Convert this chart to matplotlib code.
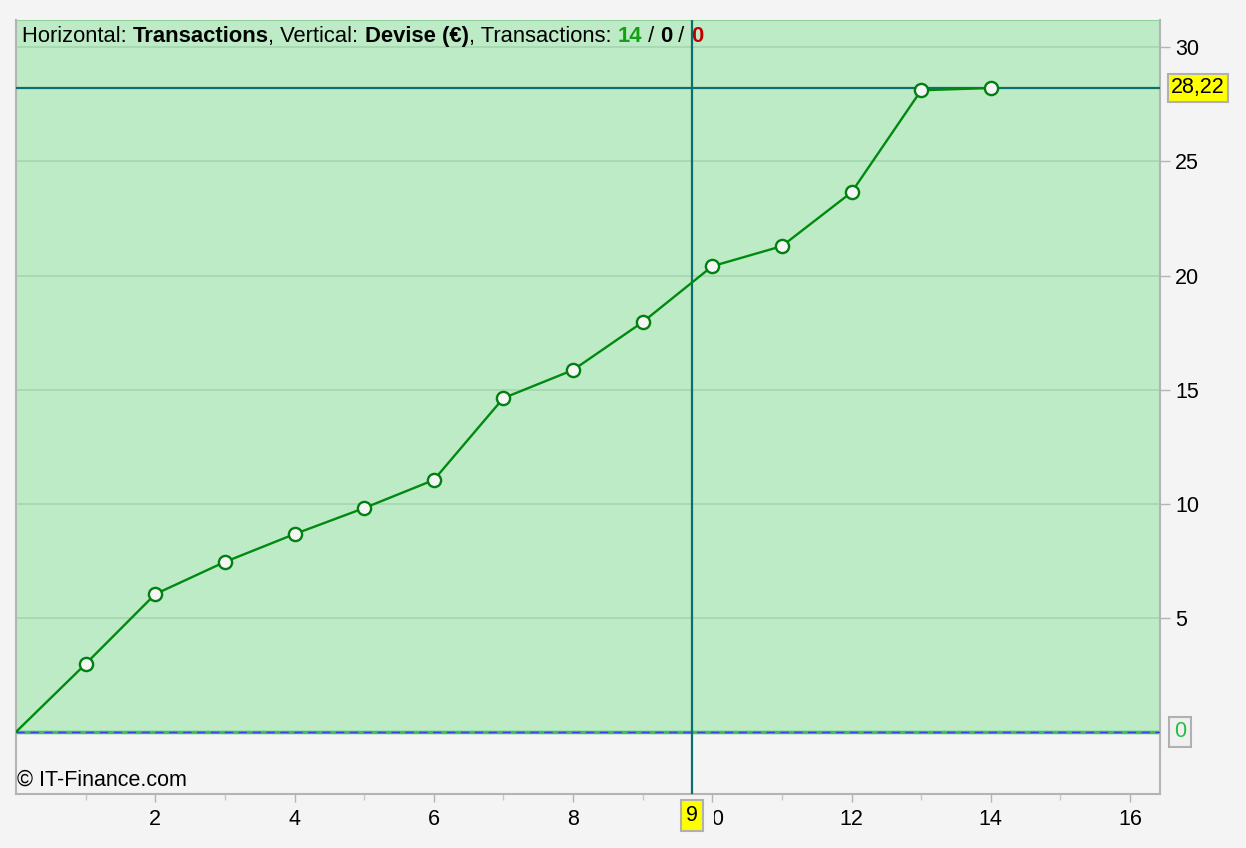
import matplotlib
matplotlib.use('Agg')
import matplotlib.pyplot as plt
from matplotlib.transforms import Bbox

# Données
transactions = [0, 1, 2, 3, 4, 5, 6, 7, 8, 9, 10, 11, 12, 13, 14]
devise = [0, 2.98, 6.04, 7.45, 8.67, 9.81, 11.04, 14.63, 15.86, 17.96,
          20.41, 21.29, 23.65, 28.12, 28.22]
x_ticks = [2, 4, 6, 8, 10, 12, 14, 16]
y_ticks = [5, 10, 15, 20, 25, 30]
curseur_x = 9.71
curseur_y = 28.22
nb_gagnantes, nb_nulles, nb_perdantes = 14, 0, 0

plt.rcParams['font.family'] = ['Liberation Sans', 'DejaVu Sans']
taille = 15.5

fig = plt.figure(figsize=(12.46, 8.48), dpi=100)
fig.patch.set_facecolor('#f4f4f4')
ax = fig.add_axes([16 / 1246, 54 / 848, 1144 / 1246, 774 / 848])
ax.set_facecolor('#f4f4f4')

ax.set_xlim(0, 16.43)
ax.set_ylim(-2.72, 31.2)

# zone verte au-dessus de zéro
ax.axhspan(0, 31.2, facecolor='#bdebc6', edgecolor='#8fd09d', linewidth=1.5, zorder=0)
for y in y_ticks:
    ax.axhline(y, color='#a6d6b0', linewidth=1.2, zorder=1)

# ligne zéro
ax.axhline(0, color='#3cc060', linewidth=2.5, zorder=2)
ax.axhline(0, color='#4040e0', linewidth=1, linestyle=(0, (6, 4)), zorder=3)

# courbe (pas de marqueur sur le point de départ)
ax.plot(transactions, devise, color='#008a10', linewidth=1.7, marker='o',
        markersize=9.5, markerfacecolor='#f6f6f6', markeredgecolor='#008010',
        markeredgewidth=1.7, markevery=list(range(1, len(transactions))), zorder=5)

# réticule
ax.axvline(curseur_x, color='#0d6e6e', linewidth=1.6, zorder=4)
ax.axhline(curseur_y, color='#0d6e6e', linewidth=1.6, zorder=4)

for s in ax.spines.values():
    s.set_color('#b4b4b4')
    s.set_linewidth(1.5)
ax.spines['top'].set_visible(False)

ax.set_xticks(x_ticks)
ax.set_xticks(range(1, 17, 2), minor=True)
ax.tick_params(axis='x', which='major', length=6, width=1, color='#b4b4b4',
               labelsize=taille, pad=5)
ax.tick_params(axis='x', which='minor', length=4, width=1, color='#c8c8c8')
ax.yaxis.tick_right()
ax.set_yticks(y_ticks)
ax.tick_params(axis='y', length=7, width=1, color='#b4b4b4', labelsize=taille, pad=4)

# titre
t = ax.text(0.005, 0.992, 'Horizontal: ', transform=ax.transAxes, fontsize=15.8,
            ha='left', va='top', zorder=10)
morceaux = [('Transactions', 'bold', 'black'), (', Vertical: ', 'normal', 'black'),
            ('Devise (€)', 'bold', 'black'), (', Transactions: ', 'normal', 'black'),
            (str(nb_gagnantes), 'bold', '#14a014'), (' / ', 'normal', 'black'),
            (str(nb_nulles), 'bold', 'black'), (' / ', 'normal', 'black'),
            (str(nb_perdantes), 'bold', '#c00000')]
for txt, poids, coul in morceaux:
    t = ax.annotate(txt, xy=(1, 0), xycoords=t, ha='left', va='bottom',
                    fontsize=15.8, fontweight=poids, color=coul, zorder=10)

ax.text(0.001, 0.004, '© IT-Finance.com', transform=ax.transAxes, fontsize=taille,
        ha='left', va='bottom', zorder=10)

# étiquettes du réticule
ax.annotate(f'{curseur_y:.2f}'.replace('.', ','), xy=(1, curseur_y),
            xycoords=('axes fraction', 'data'), xytext=(8, 0), textcoords='offset points',
            ha='left', va='center', fontsize=taille,
            bbox=dict(boxstyle='square,pad=0.15', facecolor='#ffff00', edgecolor='#b0b0b0',
                      linewidth=1.5),
            zorder=10, annotation_clip=False)
ax.annotate('0', xy=(1, 0), xycoords=('axes fraction', 'data'), xytext=(10, 0),
            textcoords='offset points', ha='left', va='center', fontsize=taille,
            color='#20c040',
            bbox=dict(boxstyle='square,pad=0.22', facecolor='#f0f0f0', edgecolor='#b0b0b0',
                      linewidth=1.5),
            zorder=10, annotation_clip=False)
ax.annotate(str(int(curseur_x)), xy=(curseur_x, 0), xycoords=('data', 'axes fraction'),
            xytext=(0, -8), textcoords='offset points', ha='center', va='top',
            fontsize=taille,
            bbox=dict(boxstyle='square,pad=0.22', facecolor='#ffff00', edgecolor='#b0b0b0',
                      linewidth=1.5),
            zorder=10, annotation_clip=False)

# la partie de l'étiquette "10" cachée par l'étiquette du curseur
x_coupe = ax.transData.transform((curseur_x + 0.31, 0))[0]
for lab in ax.get_xticklabels():
    if lab.get_text() == '10':
        lab.set_clip_on(True)
        lab.set_clip_box(Bbox([[x_coupe, 0], [fig.bbox.width, fig.bbox.height]]))

fig.savefig('out.png', dpi=100, facecolor=fig.get_facecolor())
plt.close(fig)
